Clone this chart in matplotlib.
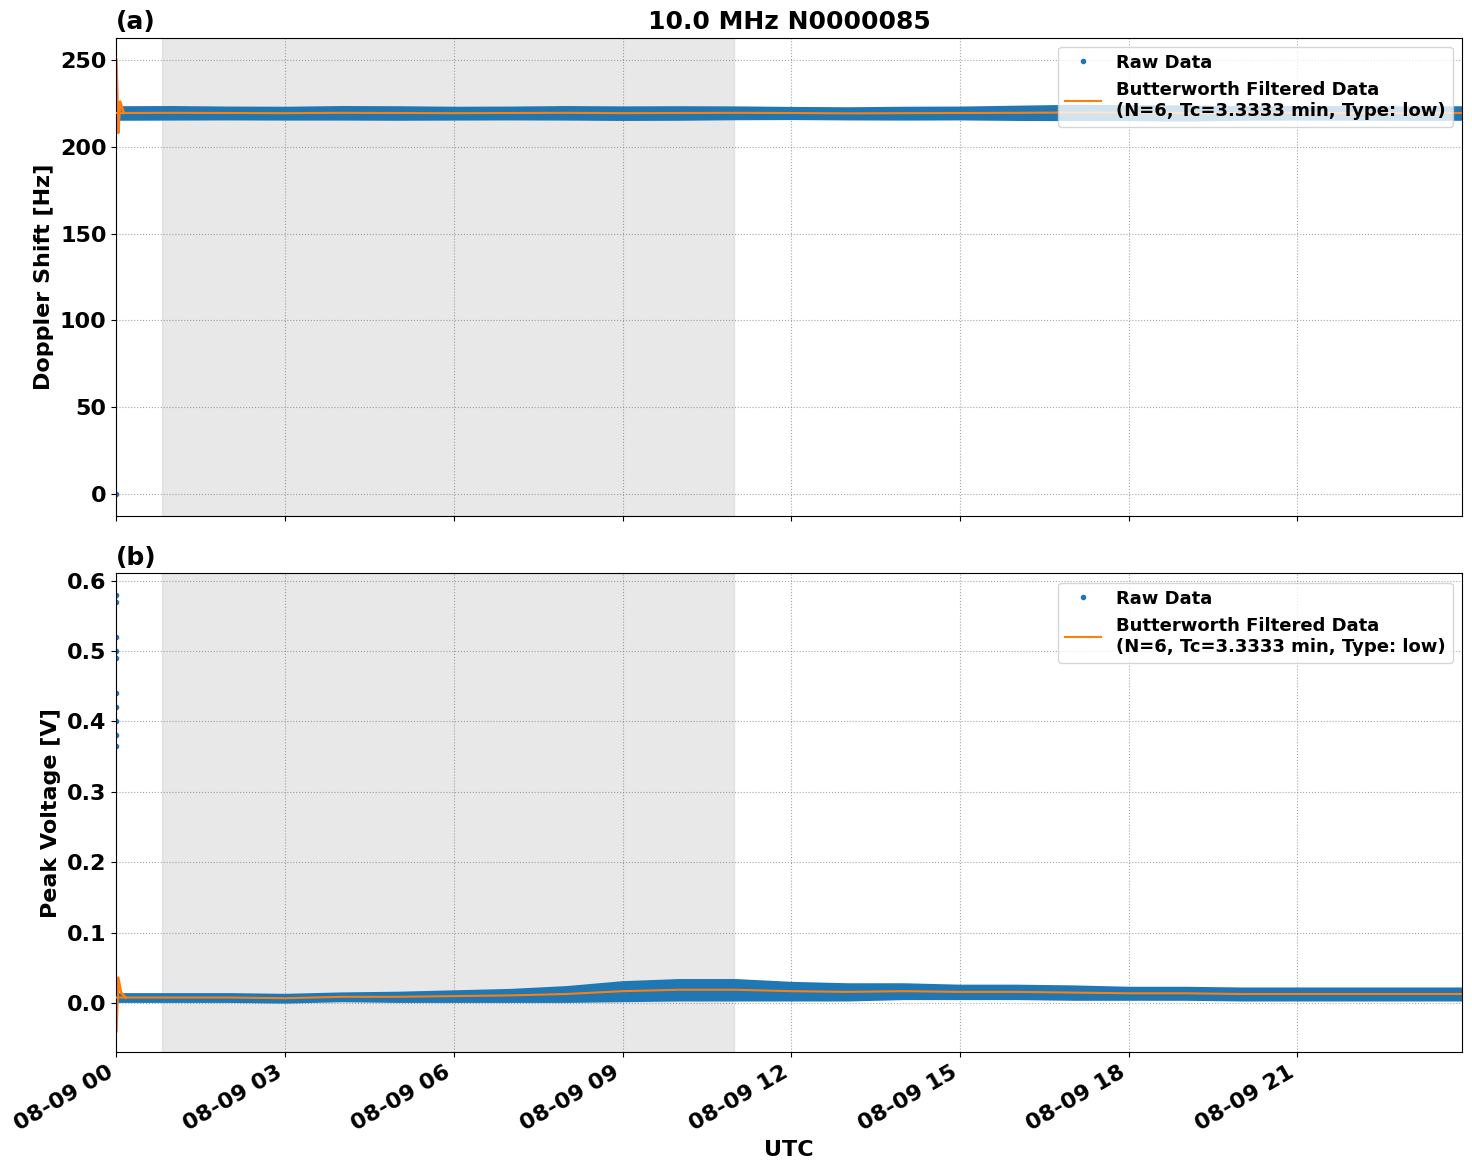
import numpy as np
import pandas as pd
import matplotlib
matplotlib.use("Agg")
import matplotlib.pyplot as plt
import matplotlib.dates as mdates

plt.rcParams['font.weight'] = 'bold'
plt.rcParams['axes.labelweight'] = 'bold'
plt.rcParams['axes.titleweight'] = 'bold'
plt.rcParams['font.size'] = 16

# Hourly read-off values (UTC hour of 08-09)
hours = list(range(25))
doppler_mid = [219.5, 219.6, 219.5, 219.4, 219.6, 219.5, 219.4, 219.5, 219.6, 219.4, 219.5,
               219.6, 219.5, 219.3, 219.4, 219.5, 219.6, 219.8, 219.7, 219.5, 219.5, 219.6,
               219.5, 219.4, 219.5]
doppler_half = [3.0, 3.0, 2.8, 2.8, 3.0, 3.0, 2.8, 2.8, 3.0, 3.0, 3.0, 2.8, 2.6, 2.6, 2.8,
                2.8, 3.2, 3.5, 3.4, 3.5, 3.0, 3.0, 3.0, 3.0, 3.0]
volt_mid = [0.008, 0.008, 0.008, 0.007, 0.009, 0.009, 0.010, 0.011, 0.013, 0.017, 0.019,
            0.019, 0.017, 0.016, 0.017, 0.016, 0.016, 0.015, 0.014, 0.014, 0.013, 0.013,
            0.013, 0.013, 0.013]
volt_half = [0.004, 0.004, 0.004, 0.004, 0.004, 0.005, 0.006, 0.007, 0.009, 0.012, 0.013,
             0.013, 0.011, 0.010, 0.009, 0.008, 0.008, 0.008, 0.007, 0.007, 0.007, 0.007,
             0.007, 0.007, 0.007]
# startup transients at 00:00
spike_volt = [0.365, 0.38, 0.40, 0.42, 0.44, 0.49, 0.50, 0.52, 0.57, 0.58]
spike_dopp = [0.0]

day = pd.Timestamp("2024-08-09")
t = [day + pd.Timedelta(hours=h) for h in hours]
dm, dh = np.array(doppler_mid), np.array(doppler_half)
vm, vh = np.array(volt_mid), np.array(volt_half)

fig, (ax1, ax2) = plt.subplots(2, 1, figsize=(14.72, 11.72), sharex=True)
fig.subplots_adjust(left=0.079, right=0.993, top=0.968, bottom=0.102, hspace=0.119)
leg_label = "Butterworth Filtered Data\n(N=6, Tc=3.3333 min, Type: low)"

for ax, mid, half in [(ax1, dm, dh), (ax2, vm, vh)]:
    ax.axvspan(day + pd.Timedelta(hours=0.82), day + pd.Timedelta(hours=10.98),
               color='lightgray', alpha=0.5, zorder=0)
    ax.fill_between(t, mid - half, mid + half, color='tab:blue', lw=3, edgecolor='tab:blue', zorder=2)
    ax.plot(t, mid, '.', color='tab:blue', label='Raw Data', zorder=2)
    ax.plot(t, mid, color='tab:orange', lw=1.5, label=leg_label, zorder=3)
    ax.grid(True, linestyle=':', color='gray', alpha=0.7)
    ax.legend(loc='upper right', prop={'weight': 'bold', 'size': 13})

ax1.plot([day] * len(spike_dopp), spike_dopp, '.', color='tab:blue')
ax1.plot([day, day + pd.Timedelta(minutes=2), day + pd.Timedelta(minutes=4), day + pd.Timedelta(minutes=8)],
         [250, 208, 226, 219.5], color='tab:orange', lw=2)
ax2.plot([day] * len(spike_volt), spike_volt, '.', color='tab:blue')
ax2.plot([day, day + pd.Timedelta(minutes=2), day + pd.Timedelta(minutes=5), day + pd.Timedelta(minutes=10)],
         [-0.04, 0.036, 0.015, 0.008], color='tab:orange', lw=2)

ax1.set_ylim(-13, 263)
ax2.set_ylim(-0.07, 0.61)
ax1.set_ylabel("Doppler Shift [Hz]")
ax2.set_ylabel("Peak Voltage [V]")
ax2.set_xlabel("UTC")
ax1.set_title("10.0 MHz N0000085", fontsize=18)
ax1.set_title("(a)", loc='left', fontsize=18)
ax2.set_title("(b)", loc='left', fontsize=18)
ax2.set_xlim(day, day + pd.Timedelta(hours=23.92))
ax2.xaxis.set_major_locator(mdates.HourLocator(interval=3))
ax2.xaxis.set_major_formatter(mdates.DateFormatter("%m-%d %H"))
for lbl in ax2.get_xticklabels():
    lbl.set_rotation(30)
    lbl.set_ha('right')

plt.savefig("out.png", dpi=100)
